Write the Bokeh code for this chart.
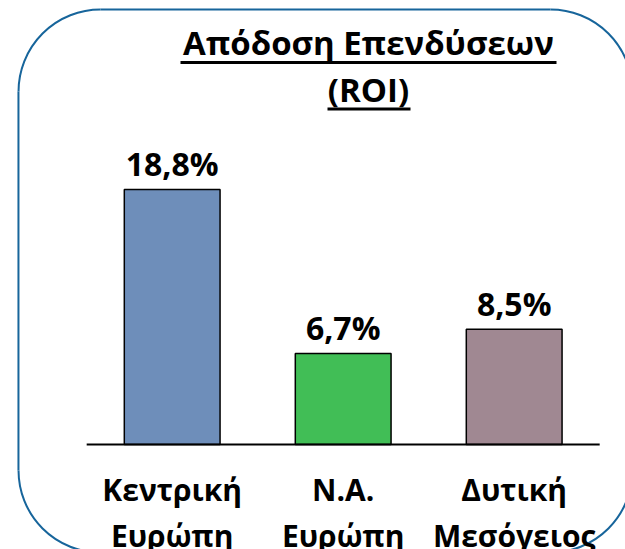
import math
from bokeh.plotting import figure
from bokeh.models import Range1d, Label, BoxAnnotation, ColumnDataSource
from bokeh.core.properties import value
from bokeh.embed import file_html
from bokeh.resources import INLINE

# ---- data ----
categories = ["Κεντρική\nΕυρώπη", "Ν.Α.\nΕυρώπη", "Δυτική\nΜεσόγειος"]
roi_values = [18.8, 6.7, 8.5]
bar_colors = ["#6E8EBA", "#41BE56", "#A08892"]
title_line1 = "Απόδοση Επενδύσεων"
title_line2 = "(ROI)"

FONT = "Open Sans"
W, H = 625, 549
BORDER = "#17659B"

xs = list(range(len(categories)))
value_labels = [f"{v:.1f}".replace(".", ",") + "%" for v in roi_values]

src = ColumnDataSource(dict(x=xs, top=roi_values, color=bar_colors,
                            lbl=value_labels, cat=categories,
                            zero=[0] * len(xs)))

p = figure(width=W, height=H, output_backend="svg", toolbar_location=None,
           x_axis_type=None, y_axis_type=None,
           x_range=Range1d(-1.004, 2.651), y_range=Range1d(-7.74, 32.72),
           min_border=0, outline_line_color=None)
p.grid.visible = False
p.background_fill_color = "white"
p.border_fill_color = "white"

# rounded frame around the chart (decorative; right side lies off the view)
fx_l, fx_cl, fx_cr = -0.899, -0.419, 2.212
fy_t, fy_ct, fy_cb, fy_b = 32.056, 26.013, -1.916, -7.959
p.segment(x0=[fx_cl, fx_l, fx_cl], y0=[fy_t, fy_ct, fy_b],
          x1=[fx_cr, fx_l, fx_cr], y1=[fy_t, fy_cb, fy_b],
          line_color=BORDER, line_width=2)
p.arc(x=[fx_cl, fx_cr, fx_cl, fx_cr], y=[fy_ct, fy_ct, fy_cb, fy_cb],
      radius=82, radius_units="screen",
      start_angle=[math.pi / 2, 0, math.pi, 1.5 * math.pi],
      end_angle=[math.pi, math.pi / 2, 1.5 * math.pi, 2 * math.pi],
      line_color=BORDER, line_width=2)

# bars
p.vbar(x="x", top="top", bottom=0, width=0.56, source=src,
       fill_color="color", line_color="black", line_width=1.5)

# baseline
p.segment(x0=[-0.5], y0=[0], x1=[len(xs) - 0.5], y1=[0],
          line_color="black", line_width=2)

# value labels
p.text(x="x", y="top", text="lbl", source=src, text_align="center",
       text_baseline="alphabetic", y_offset=-26,
       text_font=value(FONT), text_font_style="bold",
       text_font_size="32px", text_color="black")

# category labels
p.text(x="x", y="zero", text="cat", source=src, text_align="center",
       text_baseline="top", y_offset=25, text_line_height=1.1,
       text_font=value(FONT), text_font_style="bold",
       text_font_size="30px", text_color="black")

# title (two underlined lines)
p.add_layout(Label(x=368, y=507, x_units="screen", y_units="screen",
                   text=title_line1, text_align="center",
                   text_baseline="alphabetic", text_font=FONT,
                   text_font_style="bold", text_font_size="33px",
                   text_color="black"))
p.add_layout(Label(x=368, y=460, x_units="screen", y_units="screen",
                   text=title_line2, text_align="center",
                   text_baseline="alphabetic", text_font=FONT,
                   text_font_style="bold", text_font_size="33px",
                   text_color="black"))
p.add_layout(BoxAnnotation(left=180, right=556, top=488.5, bottom=485.5,
                           left_units="screen", right_units="screen",
                           top_units="screen", bottom_units="screen",
                           fill_color="black", fill_alpha=1, line_color=None))
p.add_layout(BoxAnnotation(left=327, right=410, top=442, bottom=439,
                           left_units="screen", right_units="screen",
                           top_units="screen", bottom_units="screen",
                           fill_color="black", fill_alpha=1, line_color=None))

open("out.html", "w").write(file_html(p, INLINE))
